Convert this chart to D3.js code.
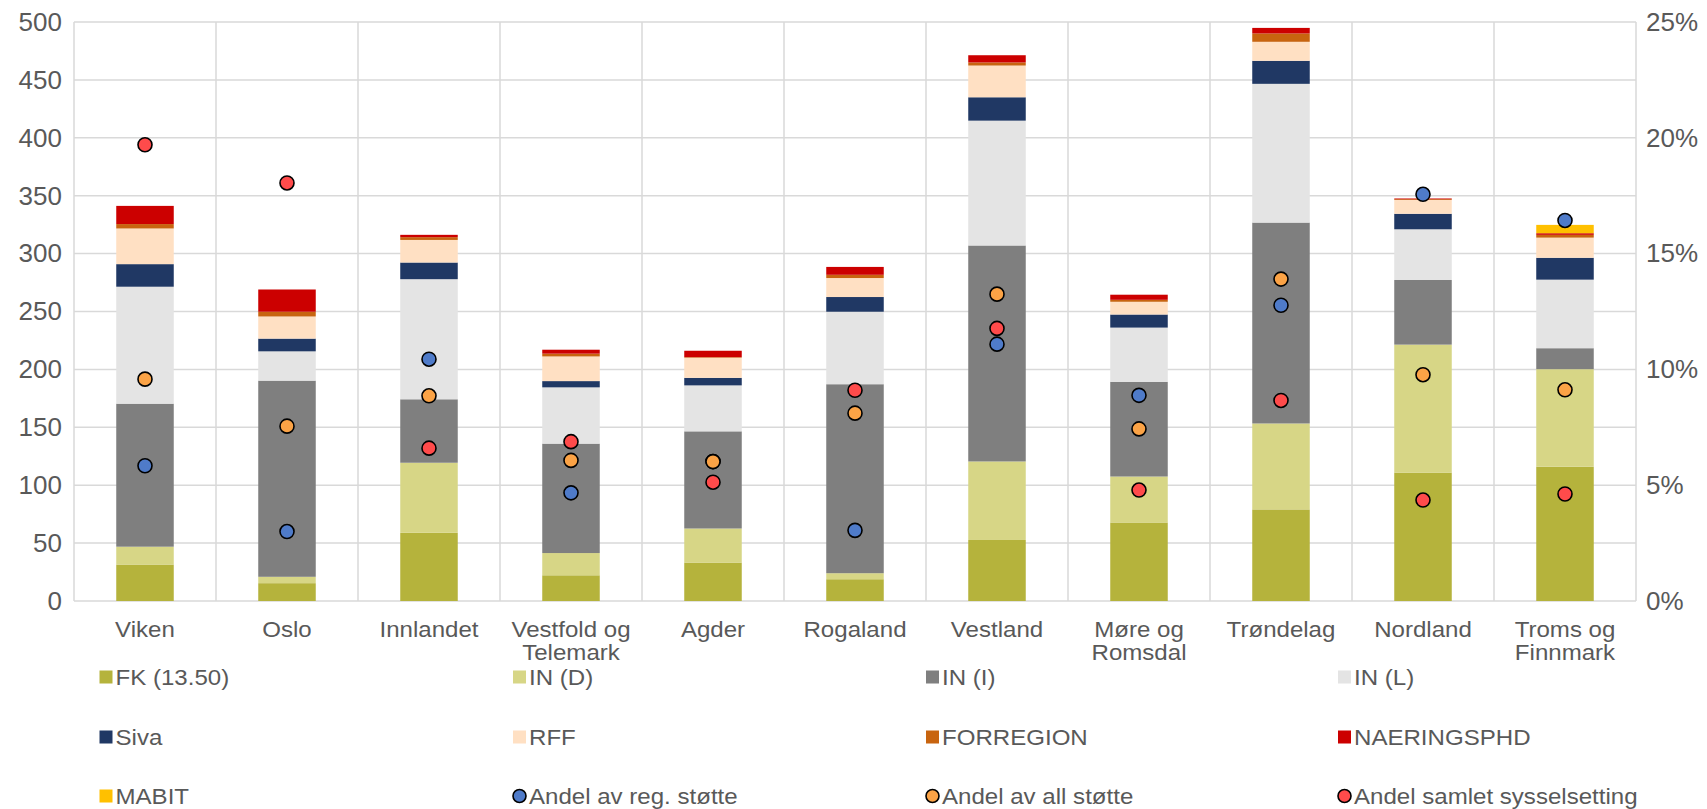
<!DOCTYPE html>
<html>
<head>
<meta charset="utf-8">
<script src="https://cdnjs.cloudflare.com/ajax/libs/d3/7.8.5/d3.min.js"></script>
<style>
  html, body { margin: 0; padding: 0; background: #ffffff; }
  svg text { font-family: "Liberation Sans", Arial, sans-serif; fill: #595959; }
</style>
</head>
<body>
<svg id="chart" width="1707" height="809"></svg>
<script>
// ---------- DATA ----------
const categories = ["Viken", "Oslo", "Innlandet", "Vestfold og Telemark", "Agder", "Rogaland",
  "Vestland", "Møre og Romsdal", "Trøndelag", "Nordland", "Troms og Finnmark"];

const seriesNames = ["FK (13.50)", "IN (D)", "IN (I)", "IN (L)", "Siva", "RFF", "FORREGION", "NAERINGSPHD", "MABIT"];
const seriesColors = ["#B5B33C", "#D7D686", "#7F7F7F", "#E4E4E4", "#203864", "#FFE0C3", "#C8640F", "#CC0000", "#FFC000"];

const FK          = [31.5, 15.4, 58.9, 22.2, 33.2, 18.8, 52.7, 67.8, 79.1, 110.9, 116.0];
const IN_D        = [15.4, 5.5, 60.5, 19.2, 29.4, 5.2, 67.8, 39.7, 74.2, 110.5, 84.2];
const IN_I        = [123.5, 169.4, 54.8, 94.5, 83.9, 163.2, 186.5, 81.8, 173.5, 55.8, 18.1];
const IN_L        = [101.0, 25.3, 103.7, 48.6, 39.7, 62.6, 107.8, 46.8, 119.8, 43.8, 59.2];
const Siva        = [19.5, 11.0, 14.4, 5.4, 6.5, 12.7, 20.2, 11.3, 19.9, 13.4, 18.9];
const RFF         = [30.8, 19.1, 19.5, 21.3, 17.4, 16.4, 27.4, 11.0, 16.4, 11.9, 17.4];
const FORREGION   = [3.8, 4.1, 2.4, 2.4, 0.5, 2.8, 2.7, 1.7, 7.2, 0.7, 2.4];
const NAERINGSPHD = [15.7, 19.2, 2.0, 3.4, 5.5, 6.8, 6.2, 4.4, 4.8, 0.6, 1.4];
const MABIT       = [0, 0, 0, 0, 0, 0, 0, 0, 0, 0, 7.2];

// share series (percent, right axis)
const pointNames  = ["Andel av reg. støtte", "Andel av all støtte", "Andel samlet sysselsetting"];
const pointColors = ["#4F7BC9", "#FBA346", "#FF4B4B"];
const andelReg    = [5.84, 3.0, 10.44, 4.67, 6.02, 3.05, 11.09, 8.88, 12.77, 17.56, 16.43];
const andelAll    = [9.58, 7.55, 8.86, 6.07, 6.02, 8.11, 13.25, 7.43, 13.9, 9.77, 9.12];
const andelSyss   = [19.7, 18.05, 6.6, 6.88, 5.13, 9.1, 11.77, 4.79, 8.66, 4.36, 4.62];

const leftTicks  = [0, 50, 100, 150, 200, 250, 300, 350, 400, 450, 500];
const rightTicks = [0, 5, 10, 15, 20, 25];

// ---------- LAYOUT ----------
const svg = d3.select("#chart");
const plot = { left: 74, right: 1636, top: 22, bottom: 601 };
const TICK_FONT = 26;
const FONT = 21.5;
const SX = 1.12;   // horizontal stretch of label text, as in the reference

const x = d3.scaleBand().domain(categories).range([plot.left, plot.right]).paddingInner(0).paddingOuter(0);
const barW = x.bandwidth() * 0.405;
const y = d3.scaleLinear().domain([0, 500]).range([plot.bottom, plot.top]);
const y2 = d3.scaleLinear().domain([0, 25]).range([plot.bottom, plot.top]);

// gridlines (horizontal)
const grid = svg.append("g");
grid.selectAll("line.h").data(leftTicks).join("line")
  .attr("x1", plot.left).attr("x2", plot.right)
  .attr("y1", d => y(d)).attr("y2", d => y(d))
  .attr("stroke", "#D9D9D9").attr("stroke-width", 1.5);
// vertical category separators
const seps = categories.map(c => x(c)).concat([plot.right]);
grid.selectAll("line.v").data(seps).join("line")
  .attr("x1", d => d).attr("x2", d => d)
  .attr("y1", plot.top).attr("y2", plot.bottom)
  .attr("stroke", "#D9D9D9").attr("stroke-width", 1.5);

// stacked bars
const seriesData = [FK, IN_D, IN_I, IN_L, Siva, RFF, FORREGION, NAERINGSPHD, MABIT];
const rows = categories.map((c, i) => {
  const r = { cat: c };
  seriesNames.forEach((s, k) => r[s] = seriesData[k][i]);
  return r;
});
const stack = d3.stack().keys(seriesNames)(rows);
const bars = svg.append("g");
stack.forEach((layer, k) => {
  bars.append("g").attr("fill", seriesColors[k])
    .selectAll("rect").data(layer).join("rect")
    .attr("x", d => x(d.data.cat) + (x.bandwidth() - barW) / 2)
    .attr("width", barW)
    .attr("y", d => y(d[1]))
    .attr("height", d => Math.max(0, y(d[0]) - y(d[1])));
});

// points
const pointData = [andelReg, andelAll, andelSyss];
const pts = svg.append("g");
pointData.forEach((arr, k) => {
  pts.append("g").selectAll("circle").data(arr).join("circle")
    .attr("cx", (d, i) => x(categories[i]) + x.bandwidth() / 2)
    .attr("cy", d => y2(d))
    .attr("r", 7)
    .attr("fill", pointColors[k])
    .attr("stroke", "#000").attr("stroke-width", 1.6);
});

// left axis
const leftAxis = d3.axisLeft(y).tickValues(leftTicks).tickSize(0).tickPadding(12);
const gL = svg.append("g").attr("transform", `translate(${plot.left},0)`).call(leftAxis);
gL.select(".domain").remove();
gL.selectAll("text").style("font-size", TICK_FONT + "px").attr("fill", "#595959");

// right axis
const rightAxis = d3.axisRight(y2).tickValues(rightTicks).tickSize(0).tickPadding(10).tickFormat(d => d + "%");
const gR = svg.append("g").attr("transform", `translate(${plot.right},0)`).call(rightAxis);
gR.select(".domain").remove();
gR.selectAll("text").style("font-size", TICK_FONT + "px").attr("fill", "#595959");

// category labels (wrapped after "og")
const wrap = s => {
  const m = s.match(/^(.* og) (.*)$/);
  return m ? [m[1], m[2]] : [s];
};
const catG = svg.append("g");
categories.forEach(c => {
  const t = catG.append("text")
    .attr("transform", `translate(${x(c) + x.bandwidth() / 2},637) scale(${SX},1)`)
    .attr("text-anchor", "middle")
    .style("font-size", FONT + "px");
  wrap(c).forEach((line, j) => {
    t.append("tspan").attr("x", 0).attr("dy", j === 0 ? 0 : 23).text(line);
  });
});

// legend
const legendItems = seriesNames.map((n, k) => ({ name: n, color: seriesColors[k], type: "rect" }))
  .concat(pointNames.map((n, k) => ({ name: n, color: pointColors[k], type: "circle" })));
const textX = [115.5, 529, 942, 1354];
const rowY = [677, 737, 796];
const leg = svg.append("g");
legendItems.forEach((it, i) => {
  const tx = textX[i % 4], cy = rowY[Math.floor(i / 4)];
  const cx = tx - 9.5;
  if (it.type === "rect") {
    leg.append("rect").attr("x", cx - 6.5).attr("y", cy - 6.5).attr("width", 13).attr("height", 13).attr("fill", it.color);
  } else {
    leg.append("circle").attr("cx", cx).attr("cy", cy).attr("r", 6.5)
      .attr("fill", it.color).attr("stroke", "#000").attr("stroke-width", 1.6);
  }
  leg.append("text")
    .attr("transform", `translate(${tx},${cy}) scale(${SX},1)`)
    .attr("dy", "0.36em")
    .style("font-size", FONT + "px").text(it.name);
});
</script>
</body>
</html>
